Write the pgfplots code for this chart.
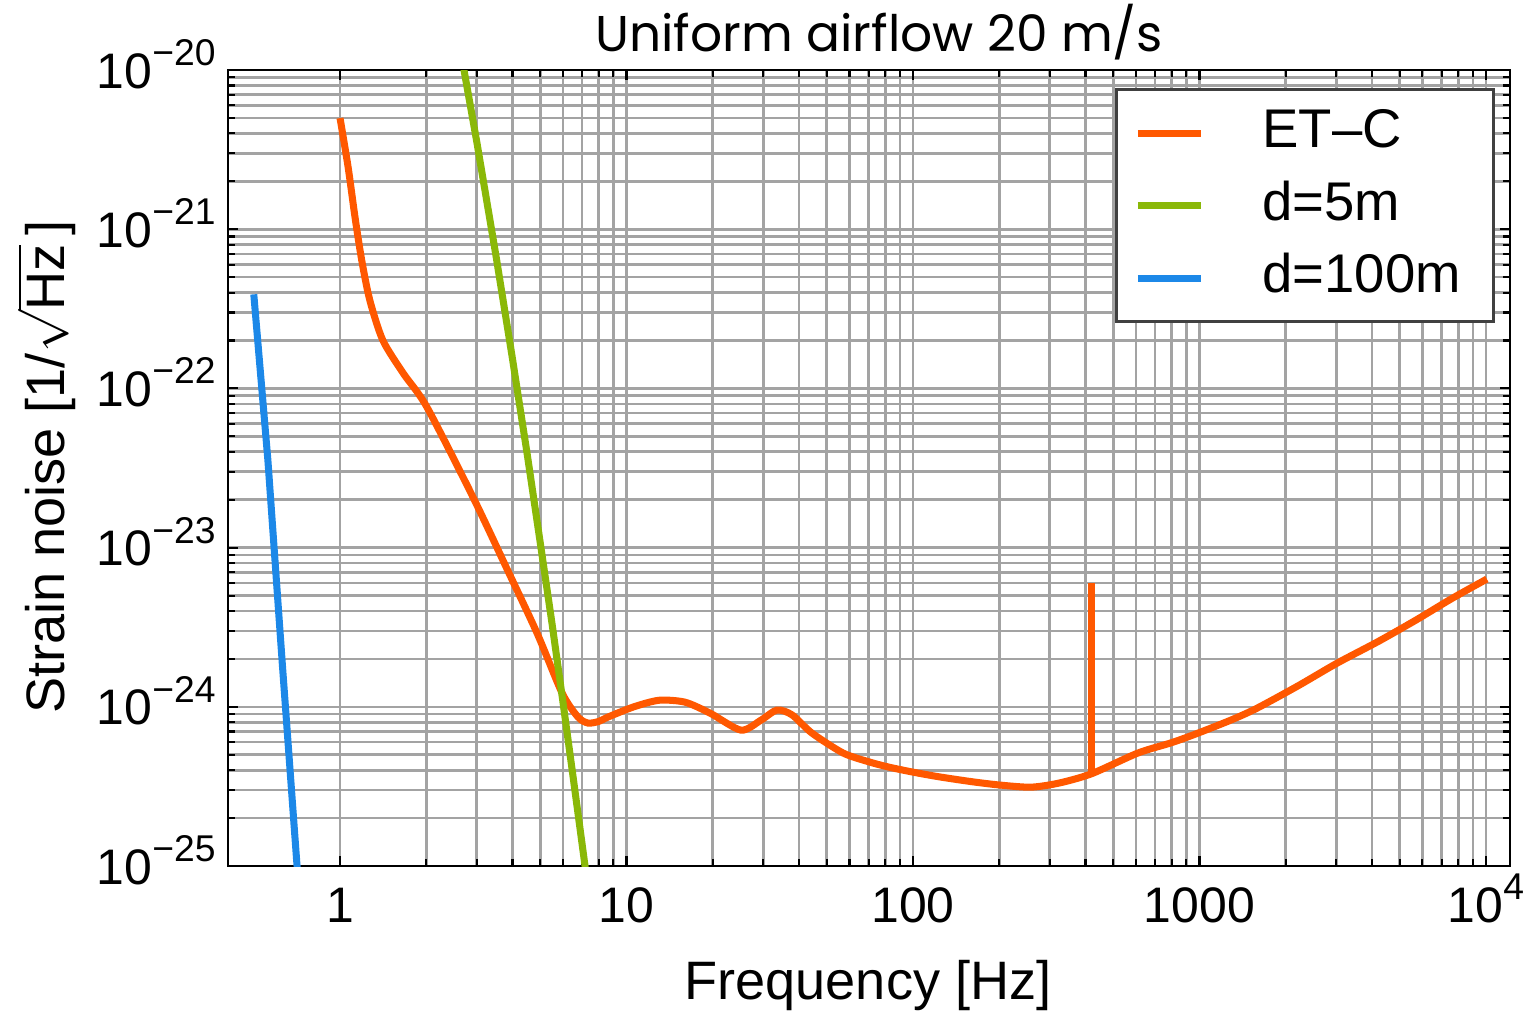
\documentclass[border=0pt]{standalone}
\usepackage{fontspec}
\setmainfont{Liberation Sans}
\newfontfamily\titlefont{Poppins}
\usepackage{pgfplots}
\pgfplotsset{compat=1.18}

\definecolor{etc}{RGB}{255,88,0}
\definecolor{dfive}{RGB}{138,184,8}
\definecolor{dhund}{RGB}{28,136,232}

% power of ten in text font
\newcommand{\tk}[1]{10\raisebox{0.45em}{\fontsize{10.6}{12}\selectfont #1}}

\begin{document}
\begin{tikzpicture}
\useasboundingbox (-2.28,-1.45) rectangle (12.97,8.66);
\begin{axis}[
  scale only axis, width=12.82cm, height=7.96cm,
  xmode=log, ymode=log,
  xmin=0.4064, xmax=12130, ymin=1e-25, ymax=1e-20,
  xtick={1,10,100,1000,10000},
  xticklabels={1,10,100,1000,\tk{4}},
  minor xtick={2,3,...,9,20,30,...,90,200,300,...,900,2000,3000,...,9000},
  ytick={1e-25,1e-24,1e-23,1e-22,1e-21,1e-20},
  yticklabels={\tk{−25},\tk{−24},\tk{−23},\tk{−22},\tk{−21},\tk{−20}},
  minor ytick={2e-25,3e-25,4e-25,5e-25,6e-25,7e-25,8e-25,9e-25,
               2e-24,3e-24,4e-24,5e-24,6e-24,7e-24,8e-24,9e-24,
               2e-23,3e-23,4e-23,5e-23,6e-23,7e-23,8e-23,9e-23,
               2e-22,3e-22,4e-22,5e-22,6e-22,7e-22,8e-22,9e-22,
               2e-21,3e-21,4e-21,5e-21,6e-21,7e-21,8e-21,9e-21},
  grid=both,
  major grid style={gray!72,line width=0.75pt},
  minor grid style={gray!72,line width=0.75pt},
  axis line style={black,line width=0.8pt},
  tick style={black,line width=0.6pt},
  major tick length=0.1cm, minor tick length=0.07cm,
  tick label style={font=\fontsize{14.2}{17}\selectfont},
  xticklabel style={anchor=base,yshift=-0.56cm},
  yticklabel style={anchor=base east,yshift=-0.18cm},
  title={\titlefont Uniform airflow 20 m/s},
  title style={at={(axis description cs:0.508,1.025)},anchor=base,yshift=-6.3pt,
    inner sep=0pt,font=\fontsize{14.3}{17}\selectfont},
  xlabel={Frequency [Hz]},
  xlabel style={at={(axis description cs:0.4992,-0.168)},anchor=base,font=\fontsize{15.4}{18}\selectfont},
  ylabel={Strain noise [1/$\sqrt{\mbox{Hz}}$\,]},
  ylabel style={at={(axis description cs:-0.1275,0.501)},anchor=base,inner sep=0pt,
    font=\fontsize{15.4}{18}\selectfont},
  legend cell align=left,
  legend image code/.code={\draw[#1] (0cm,0cm) -- (0.63cm,0cm);},
  legend style={at={(1,1)},anchor=north east,xshift=-0.15cm,yshift=-0.18cm,
    draw=black!75,line width=0.9pt,fill=white,
    inner xsep=0.18cm,inner ysep=0.19cm,row sep=0.235cm,
    font=\fontsize{15.5}{18}\selectfont,
    nodes={inner sep=0pt,text height=0.39cm,text depth=0.1cm},
    /tikz/every odd column/.append style={column sep=0.58cm}},
]
% ET-C sensitivity
\addplot[etc,line width=2pt,smooth,tension=0.45] coordinates {
 (1.00,4.99e-21) (1.067,2.46e-21) (1.128,1.19e-21) (1.19,6.41e-22)
 (1.27,3.59e-22) (1.41,2.01e-22) (1.66,1.25e-22) (2.01,7.64e-23)
 (2.91,2.08e-23) (3.80,7.55e-24) (4.87,2.91e-24)
 (5.96,1.22e-24) (6.77,8.63e-25) (7.34,7.91e-25) (8.0,8.1e-25)
 (8.62,8.63e-25) (10.6,1.0e-24) (13.0,1.10e-24) (16.0,1.07e-24)
 (19.6,9.12e-25) (25.1,7.14e-25) (29.5,8.26e-25) (33.5,9.55e-25)
 (37.8,8.91e-25) (44.4,6.84e-25) (57,5.13e-25) (70,4.52e-25)
 (82,4.19e-25) (100,3.89e-25) (124,3.63e-25) (160,3.39e-25)
 (200,3.23e-25) (258,3.13e-25) (323,3.32e-25) (420,3.8e-25)
 (610,5.13e-25) (800,5.96e-25) (988,6.84e-25) (1300,8.32e-25)
 (1590,9.82e-25) (2200,1.35e-24) (3020,1.88e-24) (4200,2.57e-24)
 (5700,3.51e-24) (7600,4.79e-24) (10070,6.35e-24)
};
\addlegendentry{ET–C}
% narrow line feature near 420 Hz
\addplot[etc,line width=2pt,forget plot] coordinates {
 (420,3.8e-25) (420,6.0e-24)
};
% d = 5 m
\addplot[dfive,line width=2pt] coordinates {
 (2.6,1.51e-20) (3.0,3.56e-21) (3.5,6.87e-22) (4.0,1.53e-22)
 (4.5,3.88e-23) (5.0,1.07e-23) (5.5,3.30e-24) (6.0,1.07e-24)
 (6.5,3.70e-25) (7.0,1.37e-25) (7.3,7.8e-26)
};
\addlegendentry{d=5m}
% d = 100 m
\addplot[dhund,line width=2pt] coordinates {
 (0.5,3.9e-22) (0.56,3.55e-23) (0.63,1.78e-24) (0.708,1.0e-25) (0.72,6.3e-26)
};
\addlegendentry{\makebox[2.13cm][l]{d=100m}}
\end{axis}
\end{tikzpicture}
\end{document}
